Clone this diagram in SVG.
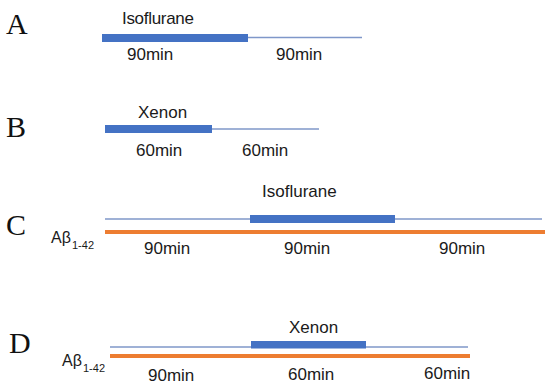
<svg xmlns="http://www.w3.org/2000/svg" width="550" height="391" viewBox="0 0 550 391">
<style>
.panel{font-family:"Liberation Serif","Times New Roman",serif;font-size:30px;fill:#111}
.lbl{font-family:"Liberation Sans",Arial,sans-serif;font-size:17px;fill:#1a1a1a}
.ab{font-family:"Liberation Sans",Arial,sans-serif;font-size:16px;fill:#1a1a1a}
.sub{font-family:"Liberation Sans",Arial,sans-serif;font-size:11px;fill:#1a1a1a}
.thin{stroke:#7f97c9;stroke-width:1.6;fill:none}
.bar{fill:#4472c4}
.orange{stroke:#ed7d31;stroke-width:4;fill:none}
</style>
<rect width="550" height="391" fill="#fff"/>
<g id="panelA">
<text class="panel" x="6" y="34">A</text>
<text class="lbl" x="122" y="24" textLength="72">Isoflurane</text>
<g id="connectorsA"><line class="thin" x1="246" y1="37.5" x2="362" y2="37.5"/></g>
<rect class="bar" x="102" y="34" width="146" height="8"/>
<text class="lbl" x="127" y="60">90min</text>
<text class="lbl" x="276" y="60">90min</text>
</g>
<g id="panelB">
<text class="panel" x="6" y="137">B</text>
<text class="lbl" x="138" y="118">Xenon</text>
<g id="connectorsB"><line class="thin" x1="210" y1="129" x2="319" y2="129"/></g>
<rect class="bar" x="105" y="125" width="107" height="8"/>
<text class="lbl" x="136" y="156">60min</text>
<text class="lbl" x="242" y="156">60min</text>
</g>
<g id="panelC">
<text class="panel" x="6" y="235">C</text>
<text class="lbl" x="262" y="197" font-size="15.5">Isoflurane</text>
<g id="connectorsC">
<line class="thin" x1="105" y1="219" x2="542" y2="219"/>
<line class="orange" x1="105" y1="232" x2="545" y2="232"/>
</g>
<rect class="bar" x="250" y="215" width="145" height="8"/>
<text class="ab" x="51" y="243">Aβ</text>
<text class="sub" x="72" y="249">1-42</text>
<text class="lbl" x="144" y="254">90min</text>
<text class="lbl" x="284" y="254">90min</text>
<text class="lbl" x="439" y="254">90min</text>
</g>
<g id="panelD">
<text class="panel" x="9" y="353">D</text>
<text class="lbl" x="289" y="333">Xenon</text>
<g id="connectorsD">
<line class="thin" x1="110" y1="347" x2="468" y2="347"/>
<line class="orange" x1="110" y1="356" x2="470" y2="356"/>
</g>
<rect class="bar" x="251" y="341" width="115" height="7.5"/>
<text class="ab" x="62" y="366">Aβ</text>
<text class="sub" x="83" y="372">1-42</text>
<text class="lbl" x="148" y="381">90min</text>
<text class="lbl" x="288" y="380">60min</text>
<text class="lbl" x="424" y="379">60min</text>
</g>
</svg>
